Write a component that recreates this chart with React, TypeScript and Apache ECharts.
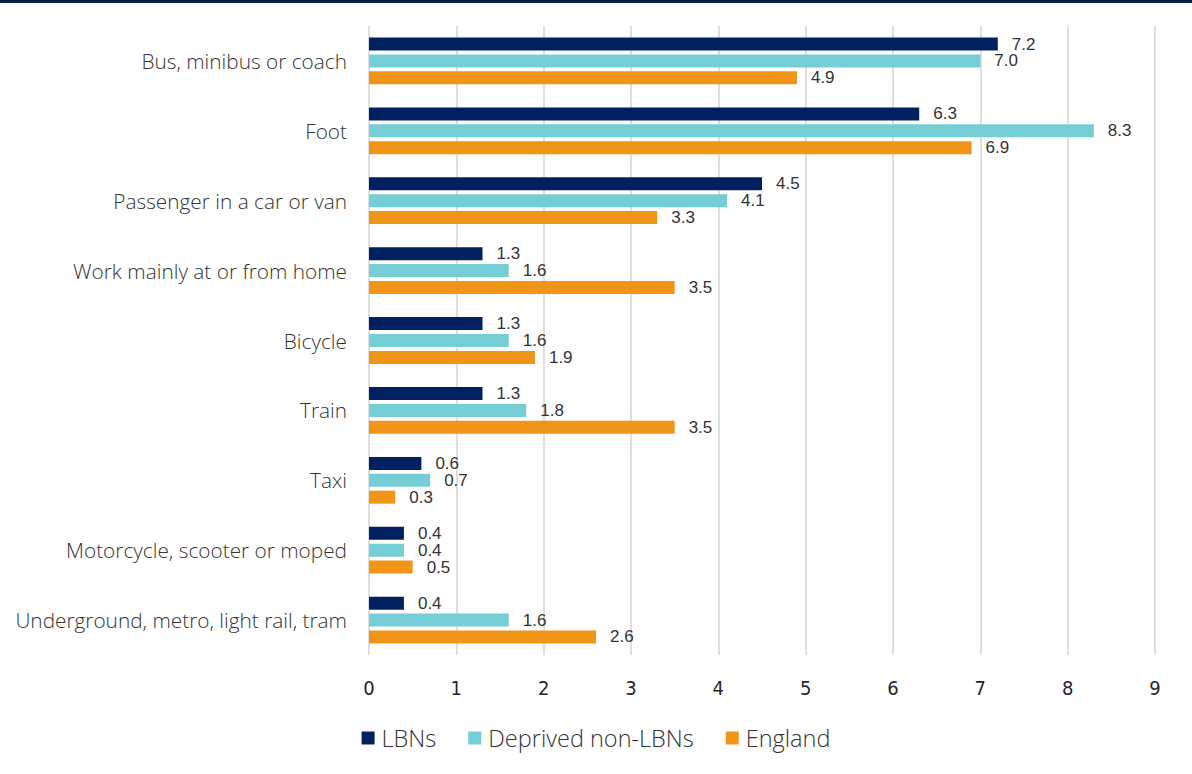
import React, { useEffect, useRef } from "react";
import * as echarts from "echarts";

const categories = [
  "Bus, minibus or coach",
  "Foot",
  "Passenger in a car or van",
  "Work mainly at or from home",
  "Bicycle",
  "Train",
  "Taxi",
  "Motorcycle, scooter or moped",
  "Underground, metro, light rail, tram",
];
const lbns = [7.2, 6.3, 4.5, 1.3, 1.3, 1.3, 0.6, 0.4, 0.4];
const deprived = [7.0, 8.3, 4.1, 1.6, 1.6, 1.8, 0.7, 0.4, 1.6];
const england = [4.9, 6.9, 3.3, 3.5, 1.9, 3.5, 0.3, 0.5, 2.6];
const seriesNames = ["LBNs", "Deprived non-LBNs", "England"];
const colors = ["#002060", "#75CDD5", "#F09518"];

export default function App() {
  const ref = useRef<HTMLDivElement>(null);
  useEffect(() => {
    if (!ref.current) return;
    const chart = echarts.init(ref.current, null, { renderer: "svg" });
    const data = [lbns, deprived, england];
    chart.setOption({
      animation: false,
      backgroundColor: "#ffffff",
      graphic: [
        {
          type: "rect",
          left: 0,
          top: 0,
          shape: { width: 1192, height: 3 },
          style: { fill: "#0C1E45" },
        },
      ],
      grid: { left: 369, right: 37, top: 26, bottom: 119, containLabel: false },
      legend: {
        data: seriesNames,
        left: "center",
        top: 721,
        itemWidth: 13,
        itemHeight: 13,
        itemGap: 32,
        icon: "rect",
        textStyle: {
          fontFamily: "Open Sans",
          fontWeight: 300,
          fontSize: 23.5,
          color: "#333333",
          padding: [0, 0, 0, 2],
        },
      },
      xAxis: {
        type: "value",
        min: 0,
        max: 9,
        interval: 1,
        axisLine: { show: false },
        axisTick: { show: false },
        splitLine: { show: true, lineStyle: { color: "#D4D4D4", width: 1.5 } },
        axisLabel: {
          margin: 23,
          fontFamily: "Liberation Sans Narrow, DejaVu Sans Condensed, Roboto",
          fontSize: 20,
          color: "#262626",
        },
      },
      yAxis: {
        type: "category",
        data: categories,
        inverse: true,
        axisLine: { show: false },
        axisTick: { show: false },
        axisLabel: {
          margin: 22,
          fontFamily: "Open Sans",
          fontWeight: 300,
          fontSize: 20.8,
          color: "#333333",
          padding: [0, 0, 5, 0],
        },
      },
      series: seriesNames.map((name, i) => ({
        name,
        type: "bar",
        data: data[i],
        barWidth: 13,
        barGap: "30%",
        itemStyle: { color: colors[i] },
        label: {
          show: true,
          position: "right",
          distance: 14,
          fontFamily: "Liberation Sans",
          fontSize: 17,
          color: "#333333",
          formatter: (p: any) => Number(p.value).toFixed(1),
        },
      })),
    });
    return () => chart.dispose();
  }, []);
  return (
    <div
      ref={ref}
      style={{ position: "fixed", left: 0, top: 0, width: 1192, height: 774 }}
    />
  );
}
